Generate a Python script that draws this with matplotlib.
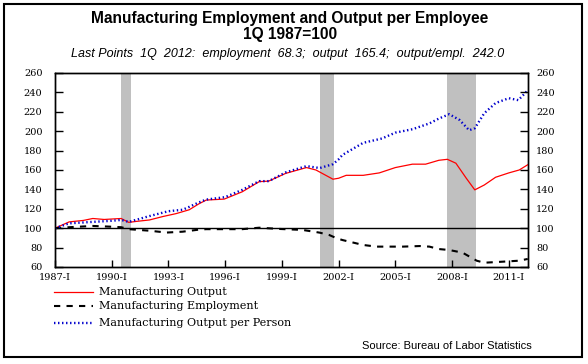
import matplotlib
matplotlib.use("Agg")
import matplotlib.pyplot as plt
from matplotlib.patches import Rectangle
from matplotlib.lines import Line2D

FIG_SIZE = (5.88, 3.64)
SAVE_PATH = "out.png"

# Manufacturing output (1Q 1987 = 100)
output_years = [1987.0, 1987.75, 1988.5, 1989.0, 1989.6, 1990.5, 1990.9, 1991.3, 1992.0,
                1992.7, 1993.4, 1994.1, 1994.6, 1995.0, 1995.95, 1996.9, 1997.8, 1998.3,
                1999.2, 2000.3, 2000.8, 2001.7, 2002.0, 2002.4, 2003.3, 2004.15, 2005.0,
                2005.9, 2006.6, 2007.3, 2007.75, 2008.2, 2008.75, 2009.2, 2009.7, 2010.3,
                2011.0, 2011.55, 2012.0]
output_vals = [100, 106.5, 108, 110, 109, 110, 106, 107, 108.5,
               112, 115, 119, 125, 129, 130, 137.5, 148, 148.5,
               156.5, 162.5, 160, 150.5, 151.5, 154.5, 154.5, 157, 162.5,
               166, 166, 170, 171, 167, 151.5, 139.5, 144.5, 152.5,
               157, 160, 165.4]

# Manufacturing employment
emp_years = [1987.0, 1987.75, 1989.0, 1989.9, 1990.5, 1990.9, 1992.0, 1992.9, 1993.75,
             1994.6, 1995.0, 1996.0, 1996.9, 1997.8, 1998.9, 2000.1, 2001.0, 2001.5,
             2001.9, 2002.2, 2003.3, 2004.0, 2005.4, 2006.3, 2006.8, 2007.3, 2007.85,
             2008.55, 2009.3, 2009.7, 2010.7, 2011.55, 2012.0]
emp_vals = [100, 101, 102.3, 101.6, 101, 99, 97.4, 95.5, 96.4,
            98.5, 99, 99, 99, 100.5, 99.2, 98.2, 95.4, 93,
            89.6, 87.8, 82.7, 81, 81, 81.6, 81, 78.5, 77.5,
            74.8, 66.5, 64.4, 65.5, 66.5, 68.3]

# Output per person
ope_years = [1987.0, 1987.75, 1989.0, 1989.9, 1990.5, 1990.9, 1992.0, 1993.0, 1993.75,
             1994.1, 1994.6, 1995.0, 1996.0, 1996.9, 1997.8, 1998.3, 1999.2, 2000.3,
             2001.0, 2001.7, 2002.0, 2002.2, 2003.3, 2004.3, 2005.0, 2005.9, 2006.8,
             2007.3, 2007.85, 2008.4, 2008.9, 2009.2, 2009.7, 2010.3, 2011.0, 2011.5,
             2012.0]
ope_vals = [100, 105, 106.5, 107.5, 108.5, 106.5, 112.5, 117.5, 119,
            122, 126.5, 129.5, 132, 139.5, 148.5, 148.5, 157.5, 164,
            162, 166, 171, 175.5, 188, 192.5, 198.5, 202, 208,
            213, 217.5, 211.5, 201, 203, 218.5, 229, 234, 232,
            242.0]

recessions = [(1990.5, 1991.0), (2001.0, 2001.75), (2007.75, 2009.25)]

tick_years = list(range(1987, 2012, 3))
tick_labels = [f"{y}-I" for y in tick_years]
y_ticks = list(range(60, 261, 20))

SERIF = "DejaVu Serif"
SANS = "Liberation Sans"
RED = dict(color="#ff0000", lw=0.9)
BLACK = dict(color="black", lw=1.5, ls=(0, (3, 3)))
BLUE = dict(color="#0000cc", lw=1.7, ls=(0, (0.6, 1.1)))


def style_y(axis, side, pad):
    axis.set_ylim(60, 260)
    axis.set_yticks(y_ticks)
    axis.tick_params(axis="y", direction="in", length=6, width=1, pad=pad,
                     left=(side == "left"), right=(side == "right"),
                     labelleft=(side == "left"), labelright=(side == "right"),
                     labelsize=7)
    for lab in axis.get_yticklabels():
        lab.set_fontfamily(SERIF)


def draw_chart(ax):
    for start, end in recessions:
        ax.axvspan(start, end, color="#c0c0c0", lw=0, zorder=1)
    ax.axhline(100, color="black", lw=1, zorder=2)
    ax.plot(output_years, output_vals, zorder=3, **RED)
    ax.plot(emp_years, emp_vals, zorder=3, **BLACK)
    ax.plot(ope_years, ope_vals, zorder=4, **BLUE)

    ax.set_xlim(1987, 2012.0)
    ax.set_xticks(tick_years)
    ax.set_xticklabels(tick_labels, fontfamily=SERIF, fontsize=7)
    ax.tick_params(axis="x", direction="in", length=5, width=1, pad=4)
    style_y(ax, "left", 9)

    right = ax.twinx()
    style_y(right, "right", 6)
    for a in (ax, right):
        for spine in a.spines.values():
            spine.set_linewidth(1)


def draw_legend(fig):
    rows = [
        (0.198, RED, "Manufacturing Output"),
        (0.159, BLACK, "Manufacturing Employment"),
        (0.112, BLUE, "Manufacturing Output per Person"),
    ]
    for y, style, label in rows:
        fig.add_artist(Line2D([0.092, 0.158], [y, y], transform=fig.transFigure, **style))
        fig.text(0.168, y, label, fontfamily=SERIF, fontsize=8, va="center", ha="left")


fig = plt.figure(figsize=FIG_SIZE, dpi=100)
ax = fig.add_axes([0.0935, 0.2665, 0.804, 0.533])
draw_chart(ax)
draw_legend(fig)

fig.text(0.493, 0.950, "Manufacturing Employment and Output per Employee",
         fontfamily=SANS, fontweight="bold", fontsize=11.2, ha="center", va="center")
fig.text(0.493, 0.905, "1Q 1987=100",
         fontfamily=SANS, fontweight="bold", fontsize=11.2, ha="center", va="center")
fig.text(0.490, 0.851,
         "Last Points  1Q  2012:  employment  68.3;  output  165.4;  output/empl.  242.0",
         fontfamily=SANS, fontstyle="italic", fontsize=9, ha="center", va="center")
fig.text(0.760, 0.049, "Source: Bureau of Labor Statistics",
         fontfamily=SANS, fontsize=8, ha="center", va="center")

fig.add_artist(Rectangle((0.007, 0.018), 0.983, 0.97, transform=fig.transFigure,
                         fill=False, edgecolor="black", lw=1.5))

fig.savefig(SAVE_PATH, dpi=100)
